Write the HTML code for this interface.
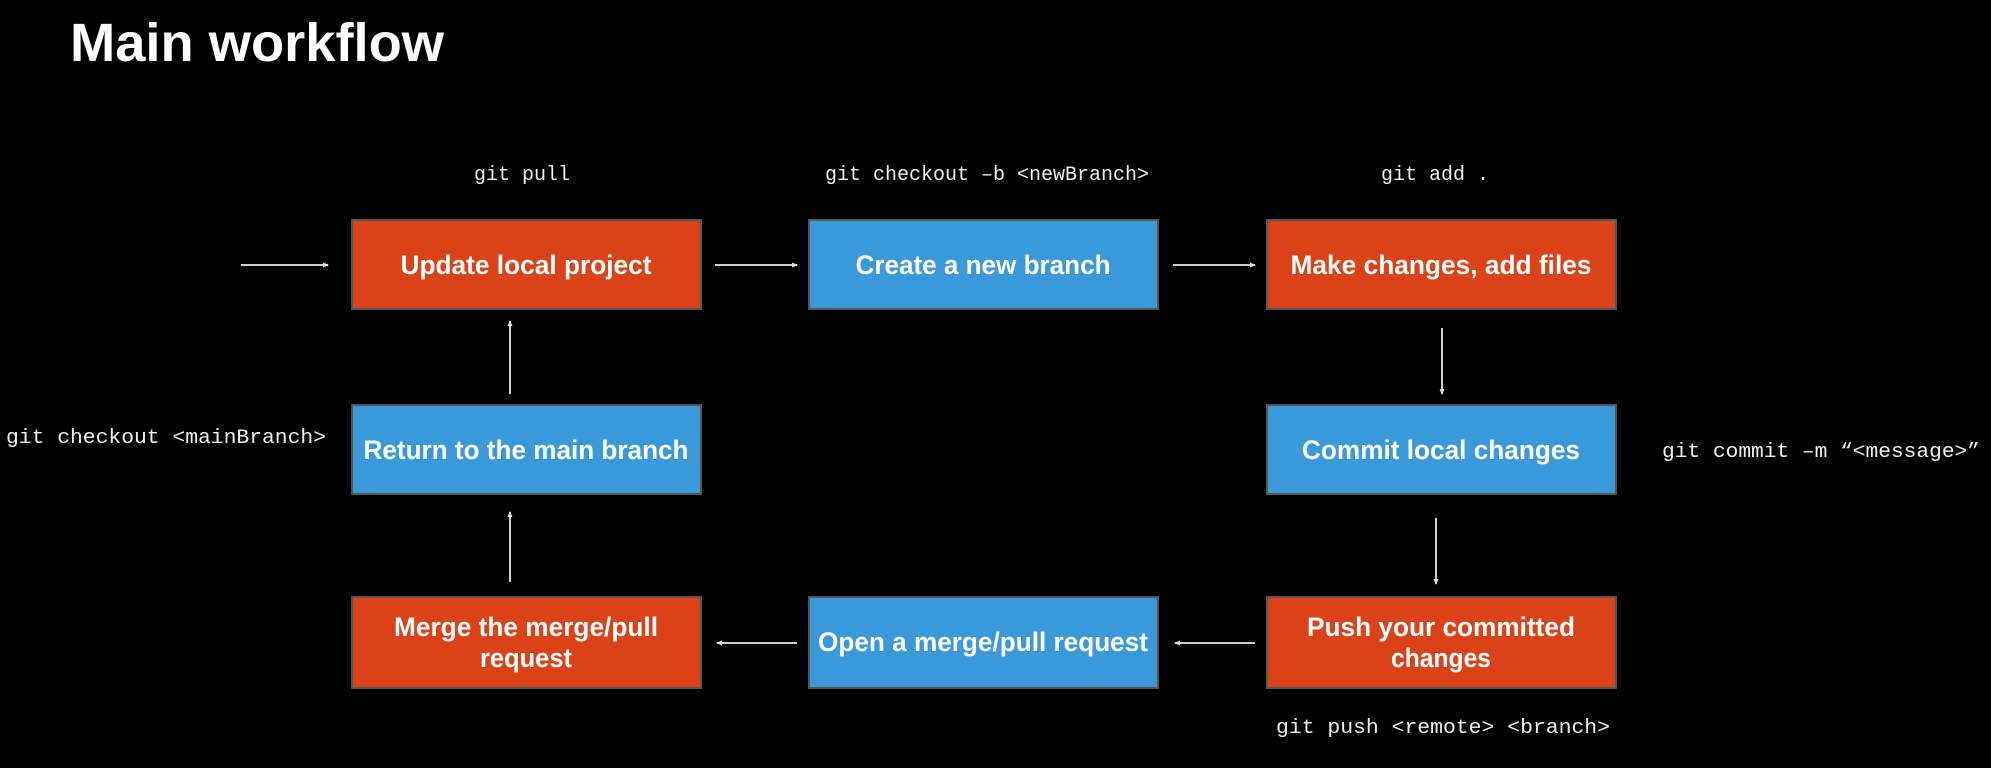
<!DOCTYPE html>
<html><head><meta charset="utf-8"><style>
html,body{margin:0;padding:0;background:#000;}
svg{display:block;}
.t{font-family:"Liberation Sans",Arial,sans-serif;font-weight:bold;fill:#fff;}
.m{font-family:"Liberation Mono",monospace;fill:#f0f0f0;font-size:20px;}
</style></head><body>
<svg width="1991" height="768" viewBox="0 0 1991 768" xmlns="http://www.w3.org/2000/svg">
<defs><marker id="a" markerWidth="6" markerHeight="6" refX="5" refY="3" orient="auto" markerUnits="userSpaceOnUse"><path d="M0,0.5 L6,3 L0,5.5z" fill="#ddd"/></marker></defs>
<rect width="1991" height="768" fill="#000"/>
<text x="70" y="61" class="t" font-size="54" textLength="374" lengthAdjust="spacingAndGlyphs">Main workflow</text>
<g stroke="#555" stroke-width="2">
<rect x="352" y="220" width="349" height="89" fill="#DC4218"/>
<rect x="809" y="220" width="349" height="89" fill="#3A9AD9"/>
<rect x="1267" y="220" width="349" height="89" fill="#DC4218"/>
<rect x="352" y="405" width="349" height="89" fill="#3A9AD9"/>
<rect x="1267" y="405" width="349" height="89" fill="#3A9AD9"/>
<rect x="352" y="597" width="349" height="91" fill="#DC4218"/>
<rect x="809" y="597" width="349" height="91" fill="#3A9AD9"/>
<rect x="1267" y="597" width="349" height="91" fill="#DC4218"/>
</g>
<g class="t" font-size="27" text-anchor="middle">
<text x="526" y="274" textLength="251" lengthAdjust="spacingAndGlyphs">Update local project</text>
<text x="983" y="274" textLength="255" lengthAdjust="spacingAndGlyphs">Create a new branch</text>
<text x="1441" y="274" textLength="301" lengthAdjust="spacingAndGlyphs">Make changes, add files</text>
<text x="526" y="459" textLength="325" lengthAdjust="spacingAndGlyphs">Return to the main branch</text>
<text x="1441" y="459" textLength="278" lengthAdjust="spacingAndGlyphs">Commit local changes</text>
<text x="526" y="636" textLength="264" lengthAdjust="spacingAndGlyphs">Merge the merge/pull</text>
<text x="526" y="667" textLength="92" lengthAdjust="spacingAndGlyphs">request</text>
<text x="983" y="651" textLength="330" lengthAdjust="spacingAndGlyphs">Open a merge/pull request</text>
<text x="1441" y="636" textLength="268" lengthAdjust="spacingAndGlyphs">Push your committed</text>
<text x="1441" y="667" textLength="100" lengthAdjust="spacingAndGlyphs">changes</text>
</g>
<g class="m">
<text x="522" y="180" text-anchor="middle">git pull</text>
<text x="987" y="180" text-anchor="middle">git checkout –b &lt;newBranch&gt;</text>
<text x="1435" y="180" text-anchor="middle">git add .</text>
<text x="6" y="443" textLength="320" lengthAdjust="spacingAndGlyphs">git checkout &lt;mainBranch&gt;</text>
<text x="1662" y="457" textLength="318" lengthAdjust="spacingAndGlyphs">git commit –m “&lt;message&gt;”</text>
<text x="1276" y="733" textLength="334" lengthAdjust="spacingAndGlyphs">git push &lt;remote&gt; &lt;branch&gt;</text>
</g>
<g stroke="#ccc" stroke-width="2" marker-end="url(#a)" fill="none">
<line x1="241" y1="265" x2="328" y2="265"/>
<line x1="715" y1="265" x2="797" y2="265"/>
<line x1="1173" y1="265" x2="1255" y2="265"/>
<line x1="1442" y1="328" x2="1442" y2="394"/>
<line x1="1436" y1="518" x2="1436" y2="584"/>
<line x1="1255" y1="643" x2="1175" y2="643"/>
<line x1="797" y1="643" x2="717" y2="643"/>
<line x1="510" y1="394" x2="510" y2="321"/>
<line x1="510" y1="582" x2="510" y2="512"/>
</g>
</svg>
</body></html>
